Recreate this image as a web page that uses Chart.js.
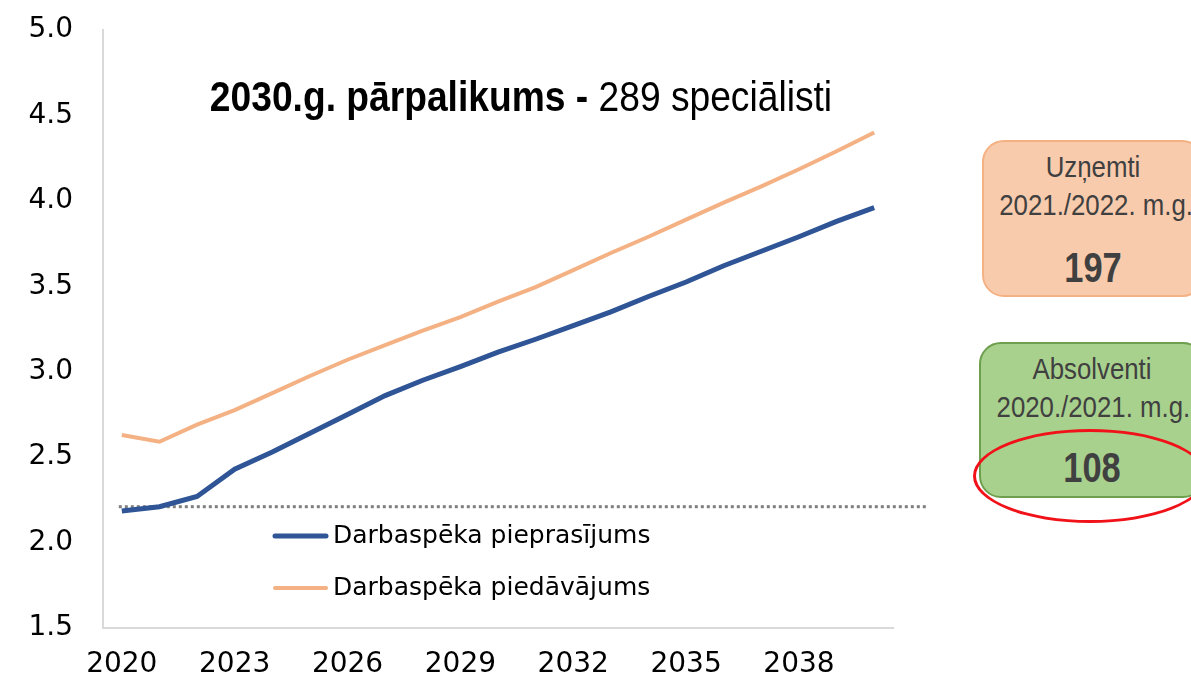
<!DOCTYPE html>
<html>
<head>
<meta charset="utf-8">
<script src="https://cdn.jsdelivr.net/npm/chart.js@4"></script>
<style>
  html, body { margin: 0; padding: 0; background: #fff; }
  #wrap { position: relative; width: 1191px; height: 683px; overflow: hidden; }
  #chart-box { position: absolute; left: 0; top: 0; width: 960px; height: 683px; }
  #title {
    position: absolute; left: 121px; top: 72px; width: 800px; text-align: center;
    font-family: "Liberation Sans", Arial, sans-serif;
    font-size: 43px; color: #000; white-space: nowrap;
    transform: scaleX(0.865); transform-origin: 50% 50%;
  }
  #title b { font-weight: 700; }
  .note {
    position: absolute; box-sizing: border-box; border-radius: 22px;
    font-family: "Liberation Sans", Arial, sans-serif;
    color: #404040; text-align: center; font-size: 30px; line-height: 38px;
    padding-top: 6px;
  }
  .note .txt { transform: scaleX(0.86); white-space: nowrap; }
  .note .num { font-weight: 700; font-size: 42px; line-height: 42px; transform: scaleX(0.82); }
  #ring { position: absolute; left: 973px; top: 429px; width: 234px; height: 94px;
    border: 3px solid #f01218; border-radius: 50%; box-sizing: border-box; }
</style>
</head>
<body>
<div id="wrap">
  <div id="chart-box"><canvas id="chart"></canvas></div>
  <div id="title"><b>2030.g. pārpalikums -</b> 289 speciālisti</div>
  <div class="note" id="note-in"></div>
  <div class="note" id="note-out"></div>
  <div id="ring"></div>
</div>
<script>
// dati nolasīti no attēla
const years  = ['2020','2021','2022','2023','2024','2025','2026','2027','2028','2029','2030',
                '2031','2032','2033','2034','2035','2036','2037','2038','2039','2040'];
const demand = [2.185, 2.21, 2.27, 2.43, 2.53, 2.64, 2.75, 2.86, 2.95, 3.03, 3.115,
                3.19, 3.27, 3.35, 3.44, 3.525, 3.62, 3.705, 3.79, 3.88, 3.96];
const supply = [2.63, 2.59, 2.69, 2.775, 2.875, 2.975, 3.07, 3.155, 3.24, 3.32, 3.41,
                3.495, 3.595, 3.695, 3.79, 3.89, 3.99, 4.085, 4.185, 4.29, 4.40];
const seriesNames = ['Darbaspēka pieprasījums', 'Darbaspēka piedāvājums'];
const baseLevel = 2.21;           // punktētā līnija
const yMin = 1.5, yMax = 5.0, yStep = 0.5;
const labelEvery = 3;             // x ass paraksti ik pa 3 gadiem

const notes = [
  { id: 'note-in',  lines: ['Uzņemti', '2021./2022. m.g.'],  value: '197' },
  { id: 'note-out', lines: ['Absolventi', '2020./2021. m.g.'], value: '108' },
];

const BLUE = '#2f5597', ORANGE = '#f4b183', AXIS = '#d9d9d9';
const TICK_FONT = { family: 'DejaVu Sans', size: 28 };

// info kastes labajā pusē
notes.forEach((n, i) => {
  const el = document.getElementById(n.id);
  Object.assign(el.style, i === 0
    ? { left: '982px', top: '140px', width: '222px', height: '157px', background: '#f8cbad', border: '2px solid #f4b183' }
    : { left: '979px', top: '342px', width: '226px', height: '156px', background: '#a9d18e', border: '2px solid #6e9f4e' });
  el.innerHTML = n.lines.map(l => `<div class="txt">${l}</div>`).join('') +
    `<div class="num" style="margin-top:${i === 0 ? 23 : 21}px">${n.value}</div>`;
});

// punktētā bāzes līnija (iziet ārpus zīmēšanas laukuma)
const baseLinePlugin = {
  id: 'baseLine',
  beforeDatasetsDraw(chart) {
    const { ctx, scales: { x, y } } = chart;
    const py = y.getPixelForValue(baseLevel);
    ctx.save();
    ctx.strokeStyle = '#7f7f7f';
    ctx.lineWidth = 3;
    ctx.setLineDash([3, 3]);
    ctx.beginPath();
    ctx.moveTo(x.getPixelForValue(0) - 3, py);
    ctx.lineTo(928, py);
    ctx.stroke();
    ctx.restore();
  }
};

// leģenda zīmēšanas laukuma iekšpusē
const innerLegend = {
  id: 'innerLegend',
  afterDraw(chart) {
    const { ctx } = chart;
    ctx.save();
    ctx.font = '25px DejaVu Sans';
    ctx.textBaseline = 'middle';
    chart.data.datasets.forEach((ds, i) => {
      const yy = 536 + i * 52;
      ctx.strokeStyle = ds.borderColor;
      ctx.lineWidth = ds.borderWidth;
      ctx.lineCap = 'round';
      ctx.beginPath();
      ctx.moveTo(275, yy);
      ctx.lineTo(326, yy);
      ctx.stroke();
      ctx.fillStyle = '#000';
      ctx.fillText(ds.label, 333, yy);
    });
    ctx.restore();
  }
};

new Chart(document.getElementById('chart').getContext('2d'), {
  type: 'line',
  data: {
    labels: years,
    datasets: [
      { label: seriesNames[0], data: demand, borderColor: BLUE,   borderWidth: 5, pointRadius: 0, tension: 0, fill: false },
      { label: seriesNames[1], data: supply, borderColor: ORANGE, borderWidth: 4, pointRadius: 0, tension: 0, fill: false },
    ]
  },
  options: {
    responsive: true,
    maintainAspectRatio: false,
    animation: false,
    layout: { padding: { top: 30, right: 67, left: 0, bottom: 0 } },
    plugins: { legend: { display: false }, tooltip: { enabled: false } },
    scales: {
      x: {
        offset: true,
        grid: { display: false, drawTicks: false },
        border: { display: true, color: AXIS, width: 2 },
        ticks: {
          autoSkip: false, maxRotation: 0, padding: 20, color: '#000', font: TICK_FONT,
          callback: (v, i) => i % labelEvery === 0 ? years[i] : '',
        },
        afterFit: s => { s.height = 55; s.paddingLeft = 0; s.paddingRight = 0; },
      },
      y: {
        min: yMin, max: yMax,
        grid: { display: false, drawTicks: false },
        border: { display: true, color: AXIS, width: 2 },
        ticks: {
          stepSize: yStep, padding: 30, color: '#000', font: TICK_FONT,
          callback: v => v.toFixed(1),
        },
        afterFit: s => { s.width = 103; s.paddingTop = 0; s.paddingBottom = 0; },
      }
    }
  },
  plugins: [baseLinePlugin, innerLegend]
});
</script>
</body>
</html>
